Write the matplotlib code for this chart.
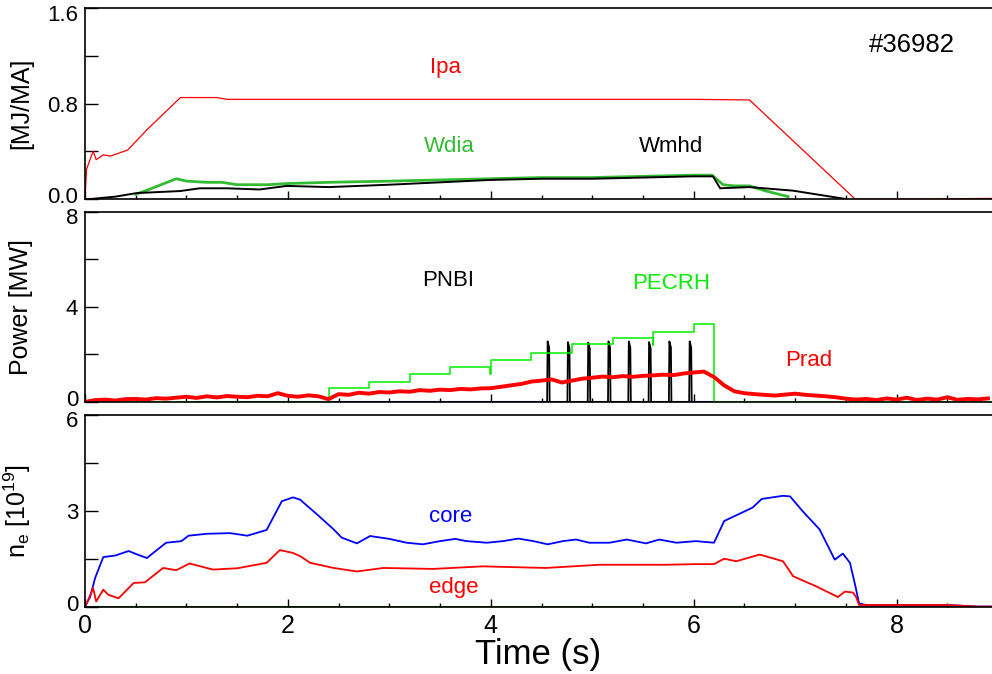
import numpy as np
import matplotlib
matplotlib.use('Agg')
import matplotlib.pyplot as plt
import matplotlib.transforms as mtrans

plt.rcParams['font.family'] = ['Liberation Sans', 'DejaVu Sans']

# top panel: plasma current and stored energy
t_ipa = [0, 0.015, 0.08, 0.11, 0.18, 0.25, 0.42, 0.61, 0.94, 1.3, 1.4, 2, 3, 4, 5, 6, 6.55, 7.59, 8.2, 8.94]
ipa = [0, 0.25, 0.40, 0.33, 0.37, 0.36, 0.41, 0.58, 0.85, 0.85, 0.835, 0.835, 0.835, 0.835, 0.835, 0.835, 0.83, 0.0, 0.0, 0.005]

t_wdia = [0.5, 0.6, 0.75, 0.9, 1.0, 1.2, 1.35, 1.5, 1.8, 2.0, 2.4, 3.0, 3.5, 4.0, 4.5, 5.0, 5.5, 6.0, 6.18, 6.29, 6.4, 6.55, 6.7, 6.93]
wdia = [0.04, 0.07, 0.12, 0.17, 0.15, 0.14, 0.14, 0.12, 0.12, 0.13, 0.14, 0.15, 0.16, 0.17, 0.18, 0.18, 0.19, 0.20, 0.20, 0.12, 0.11, 0.11, 0.07, 0.02]

t_wmhd = [0.05, 0.3, 0.51, 0.94, 1.13, 1.4, 1.72, 1.99, 2.4, 3.0, 3.5, 4.0, 4.5, 5.0, 5.5, 6.0, 6.19, 6.26, 6.55, 6.98, 7.5]
wmhd = [0.0, 0.02, 0.05, 0.067, 0.09, 0.09, 0.08, 0.11, 0.10, 0.12, 0.14, 0.16, 0.17, 0.17, 0.18, 0.19, 0.19, 0.09, 0.10, 0.07, 0.0]

# middle panel: heating and radiated power
t_ecrh = [0, 2.4, 2.8, 3.2, 3.6, 3.995, 4.0, 4.4, 4.8, 5.2, 5.595, 5.6, 6.0, 6.2, 8.94]
p_ecrh = [0, 0.58, 0.84, 1.18, 1.46, 1.18, 1.77, 2.05, 2.43, 2.69, 2.4, 2.94, 3.28, 0, 0]

t_nbi = [4.56, 4.76, 4.96, 5.16, 5.36, 5.56, 5.76, 5.96]
p_nbi = [2.55, 2.52, 2.5, 2.55, 2.55, 2.52, 2.55, 2.55]

t_prad = np.round(np.arange(0, 8.95, 0.1), 2)
p_rad = [0.0, 0.08, 0.10, 0.06, 0.12, 0.13, 0.10, 0.16, 0.14, 0.18,
         0.22, 0.17, 0.24, 0.19, 0.25, 0.22, 0.20, 0.26, 0.24, 0.37,
         0.26, 0.22, 0.28, 0.24, 0.12, 0.33, 0.30, 0.39, 0.35, 0.42,
         0.40, 0.45, 0.43, 0.50, 0.47, 0.52, 0.50, 0.55, 0.53, 0.57,
         0.58, 0.64, 0.70, 0.76, 0.86, 0.90, 0.95, 0.82, 0.90, 0.98,
         1.02, 1.07, 1.04, 1.09, 1.06, 1.10, 1.12, 1.15, 1.13, 1.20,
         1.24, 1.28, 1.05, 0.70, 0.45, 0.37, 0.33, 0.30, 0.27, 0.31,
         0.35, 0.30, 0.27, 0.24, 0.20, 0.14, 0.10, 0.13, 0.08, 0.15,
         0.10, 0.18, 0.08, 0.14, 0.10, 0.20, 0.09, 0.13, 0.11, 0.15]

# bottom panel: electron density
t_core = [0, 0.05, 0.1, 0.18, 0.3, 0.43, 0.5, 0.61, 0.7, 0.8, 0.95, 1.02, 1.2, 1.43, 1.6, 1.79, 1.94, 2.05,
          2.12, 2.3, 2.45, 2.53, 2.68, 2.81, 3.0, 3.17, 3.33, 3.5, 3.65, 3.76, 3.96, 4.12, 4.27, 4.42, 4.56,
          4.71, 4.84, 4.97, 5.17, 5.34, 5.53, 5.66, 5.83, 6.02, 6.2, 6.3, 6.58, 6.67, 6.88, 6.95, 7.07, 7.24,
          7.39, 7.47, 7.54, 7.59, 7.63, 7.7, 8.0, 8.5, 8.8, 8.94]
n_core = [0, 0.3, 0.9, 1.55, 1.6, 1.74, 1.65, 1.52, 1.75, 2.0, 2.05, 2.22, 2.28, 2.3, 2.22, 2.4, 3.3, 3.42,
          3.35, 2.85, 2.42, 2.16, 1.98, 2.21, 2.12, 2.0, 1.95, 2.05, 2.12, 2.05, 2.0, 2.05, 2.13, 2.05, 1.95,
          2.05, 2.1, 2.0, 2.0, 2.1, 1.98, 2.1, 2.0, 2.05, 2.0, 2.68, 3.1, 3.37, 3.47, 3.45, 3.0, 2.42,
          1.47, 1.66, 1.37, 0.69, 0.1, 0.05, 0.05, 0.05, 0.0, 0.0]

t_edge = [0, 0.03, 0.08, 0.11, 0.18, 0.23, 0.33, 0.48, 0.59, 0.77, 0.9, 1.03, 1.26, 1.5, 1.79, 1.92, 2.05,
          2.12, 2.22, 2.45, 2.68, 2.94, 3.43, 3.92, 4.54, 5.07, 5.72, 6.02, 6.2, 6.3, 6.42, 6.65, 6.88, 6.98,
          7.21, 7.42, 7.49, 7.57, 7.6, 7.63, 7.7, 8.5, 8.8, 8.94]
n_edge = [0, 0.2, 0.58, 0.16, 0.53, 0.37, 0.26, 0.74, 0.76, 1.21, 1.14, 1.35, 1.16, 1.2, 1.37, 1.77, 1.68,
          1.58, 1.37, 1.21, 1.1, 1.21, 1.18, 1.26, 1.21, 1.31, 1.31, 1.33, 1.33, 1.5, 1.42, 1.63, 1.42, 0.95,
          0.63, 0.3, 0.47, 0.44, 0.3, 0.05, 0.05, 0.05, 0.0, 0.0]

fig = plt.figure(figsize=(9.92, 6.74), dpi=100)
ax1 = fig.add_axes([0.0857, 0.7047, 0.9143, 0.2834])
ax2 = fig.add_axes([0.0857, 0.4036, 0.9143, 0.2819])
ax3 = fig.add_axes([0.0857, 0.1000, 0.9143, 0.2843])

ax1.plot(t_ipa, ipa, color='#ff0000', lw=0.9)
ax1.plot(t_wdia, wdia, color='#33bb33', lw=2.0)
ax1.plot(t_wmhd, wmhd, color='black', lw=1.4)
ax1.text(3.55, 1.10, 'Ipa', color='#ff0000', fontsize=16, ha='center', va='center')
ax1.text(3.59, 0.44, 'Wdia', color='#33bb33', fontsize=16, ha='center', va='center')
ax1.text(5.78, 0.44, 'Wmhd', color='black', fontsize=16, ha='center', va='center')
ax1.text(8.15, 1.29, '#36982', color='black', fontsize=18.5, ha='center', va='center')
ax1.set_ylim(0, 1.6)
ax1.set_yticks([0, 0.4, 0.8, 1.2, 1.6], labels=['0.0', '', '0.8', '', '1.6'])
ax1.set_ylabel('[MJ/MA]', fontsize=18)

# NBI pulses drawn as thin spikes
nbi_x, nbi_y = [], []
for t, h in zip(t_nbi, p_nbi):
    nbi_x += [t - 0.005, t, t + 0.015, t + 0.02]
    nbi_y += [0, h, h * 0.9, 0]
ax2.plot([1.1, 6.2], [0.0, 0.0], color='#000080', lw=1.5)
ax2.plot(nbi_x, nbi_y, color='black', lw=1.3)
ax2.plot(t_ecrh, p_ecrh, color='#00ee00', lw=1.1, drawstyle='steps-post')
ax2.plot(t_prad, p_rad, color='#ff0000', lw=2.8)
ax2.text(3.58, 5.1, 'PNBI', color='black', fontsize=16, ha='center', va='center')
ax2.text(5.78, 4.98, 'PECRH', color='#00ee00', fontsize=16, ha='center', va='center')
ax2.text(7.13, 1.73, 'Prad', color='#ff0000', fontsize=16, ha='center', va='center')
ax2.set_ylim(0, 8)
ax2.set_yticks([0, 2, 4, 6, 8], labels=['0', '', '4', '', '8'])
ax2.set_ylabel('Power [MW]', fontsize=18)

ax3.plot([0, 8.94], [0.0, 0.0], color='#005500', lw=2.0)
ax3.plot(t_core, n_core, color='#0000ff', lw=1.3)
ax3.plot(t_edge, n_edge, color='#ff0000', lw=1.3)
ax3.text(3.6, 2.83, 'core', color='#0000ff', fontsize=16, ha='center', va='center')
ax3.text(3.63, 0.59, 'edge', color='#ff0000', fontsize=16, ha='center', va='center')
ax3.set_ylim(0, 6)
ax3.set_yticks([0, 1.5, 3, 4.5, 6], labels=['0', '', '3', '', '6'])
ax3.set_ylabel('n$_\\mathregular{e}$ [10$^{\\mathregular{19}}$]', fontsize=18)
ax3.set_xlabel('Time (s)', fontsize=25, labelpad=0)

for ax in (ax1, ax2, ax3):
    ax.set_xlim(0, 8.94)
    ax.set_xticks([0, 2, 4, 6, 8])
    ax.set_xticks(np.arange(0.5, 8.9, 0.5), minor=True)
    ax.spines['right'].set_visible(False)
    for s in ('left', 'top', 'bottom'):
        ax.spines[s].set_linewidth(1.2)
    ax.tick_params(axis='y', direction='in', length=9, width=1, labelsize=16, pad=5)
    ax.tick_params(axis='x', which='major', direction='in', length=6, width=1, labelsize=18, pad=5)
    ax.tick_params(axis='x', which='minor', direction='in', length=3, width=1)
    ax.yaxis.set_label_coords(-0.057, 0.5)
    ax.patch.set_alpha(0)
    # keep the end labels inside the panel height, as in the original
    labs = ax.get_yticklabels()
    labs[0].set_transform(labs[0].get_transform() + mtrans.ScaledTranslation(0, 0.04, fig.dpi_scale_trans))
    labs[-1].set_transform(labs[-1].get_transform() + mtrans.ScaledTranslation(0, -0.045, fig.dpi_scale_trans))
ax1.tick_params(axis='x', labelbottom=False)
ax2.tick_params(axis='x', labelbottom=False)

fig.savefig('out.png', dpi=100)
